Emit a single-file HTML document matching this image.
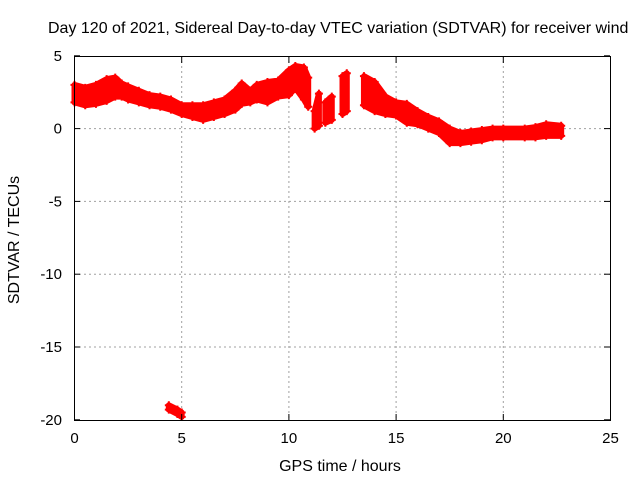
<!DOCTYPE html>
<html><head><meta charset="utf-8"><style>
body{margin:0;background:#fff}
svg text{font-family:"Liberation Sans",sans-serif;font-size:15px;fill:#000}
svg text.big{font-size:16px}
</style></head><body>
<svg width="640" height="480" viewBox="0 0 640 480" xmlns="http://www.w3.org/2000/svg">
<g id="grid"></g>
<g id="series"></g>
<rect x="74.5" y="56.5" width="536" height="364" fill="none" stroke="#000"/>
<g id="ticks"></g>
<text class="big" x="48" y="33">Day 120 of 2021, Sidereal Day-to-day VTEC variation (SDTVAR) for receiver wind</text>
<text class="big" x="340" y="471" text-anchor="middle">GPS time / hours</text>
<text class="big" transform="translate(19,240) rotate(-90)" text-anchor="middle">SDTVAR / TECUs</text>
</svg>
<script>
const xTicks=[0,5,10,15,20,25];
const yTicks=[5,0,-5,-10,-15,-20];
const segments=[
 [[0,1.8,3.0],[0.5,1.6,2.8],[1.0,1.7,3.0],[1.5,1.9,3.4],[1.9,2.2,3.5],[2.2,2.2,3.1],[2.5,2.0,2.9],[3.0,1.8,2.6],[3.5,1.6,2.3],[4.0,1.5,2.2],[4.5,1.3,2.0],[5.0,1.0,1.6],[5.5,0.8,1.6],[6.0,0.6,1.6],[6.5,0.8,1.8],[7.0,1.0,2.0],[7.5,1.3,2.6],[7.8,1.7,3.1],[8.2,1.8,2.6],[8.5,2.0,3.0],[9.0,1.8,3.2],[9.5,2.2,3.3],[10.0,2.3,4.0],[10.3,2.8,4.3],[10.7,2.0,4.2],[10.9,1.5,3.5]],
 [[11.2,0.0,1.2],[11.4,0.2,2.4]],
 [[11.7,0.4,1.8],[12.0,0.6,2.2]],
 [[12.5,1.0,3.6],[12.7,1.2,3.8]],
 [[13.5,1.6,3.6],[14.0,1.2,3.2],[14.5,1.0,2.2],[15.0,0.9,1.8],[15.5,0.4,1.7],[16.0,0.3,1.2],[16.5,0.0,0.8],[17.0,-0.3,0.5],[17.5,-1.0,0.0],[18.0,-1.0,-0.3],[18.5,-0.9,-0.2],[19.0,-0.8,-0.1],[19.5,-0.6,0.0],[20.0,-0.6,0.0],[21.0,-0.6,0.0],[21.5,-0.6,0.1],[22.0,-0.5,0.3],[22.7,-0.5,0.2]],
 [[4.4,-19.3,-19.0],[4.8,-19.6,-19.3],[5.0,-19.8,-19.5]]
];
const X=t=>74.5+t*21.44, Y=v=>128.6-v*14.56;
const ns="http://www.w3.org/2000/svg";
const grid=document.getElementById('grid'),ticks=document.getElementById('ticks'),ser=document.getElementById('series');
function mk(tag,at,p){const e=document.createElementNS(ns,tag);for(const k in at)e.setAttribute(k,at[k]);p.appendChild(e);return e;}
xTicks.forEach(t=>{
 if(t>0&&t<25){const g=mk('line',{x1:X(t),x2:X(t),y1:56,y2:420,stroke:'#a0a0a0','stroke-dasharray':'2,3'},grid);
 
 }
 const l=mk('line',{x1:X(t),x2:X(t),y1:420,y2:414,stroke:'#000'},ticks);
 
 
 const l2=mk('line',{x1:X(t),x2:X(t),y1:57,y2:63,stroke:'#000'},ticks);
 
 
 const tx=mk('text',{x:X(t),y:443,'text-anchor':'middle'},ticks);tx.textContent=t;
 
 
});
yTicks.forEach(v=>{
 if(v<5&&v>-20){const g=mk('line',{x1:74,x2:610,y1:Y(v),y2:Y(v),stroke:'#a0a0a0','stroke-dasharray':'2,3'},grid);
 
 }
 const l=mk('line',{x1:74,x2:80,y1:Y(v),y2:Y(v),stroke:'#000'},ticks);
 
 
 const l2=mk('line',{x1:604,x2:610,y1:Y(v),y2:Y(v),stroke:'#000'},ticks);
 
 
 const tx=mk('text',{x:62,y:Y(v)+5,'text-anchor':'end'},ticks);tx.textContent=v;
 
 
});
segments.forEach(seg=>{
 const top=seg.map(p=>X(p[0])+','+Y(p[2]));
 const bot=seg.slice().reverse().map(p=>X(p[0])+','+Y(p[1]));
 const pg=mk('polygon',{points:top.concat(bot).join(' '),fill:'#f00',stroke:'#f00','stroke-width':6,'stroke-linejoin':'round'},ser);
 
 
 seg.forEach(p=>{[p[1],p[2]].forEach(v=>{
  const m=mk('path',{d:`M${X(p[0])-4},${Y(v)}h8M${X(p[0])},${Y(v)-4}v8`,stroke:'#f00','stroke-width':2},ser);
  
  
 });});
});
</script>
</body></html>
